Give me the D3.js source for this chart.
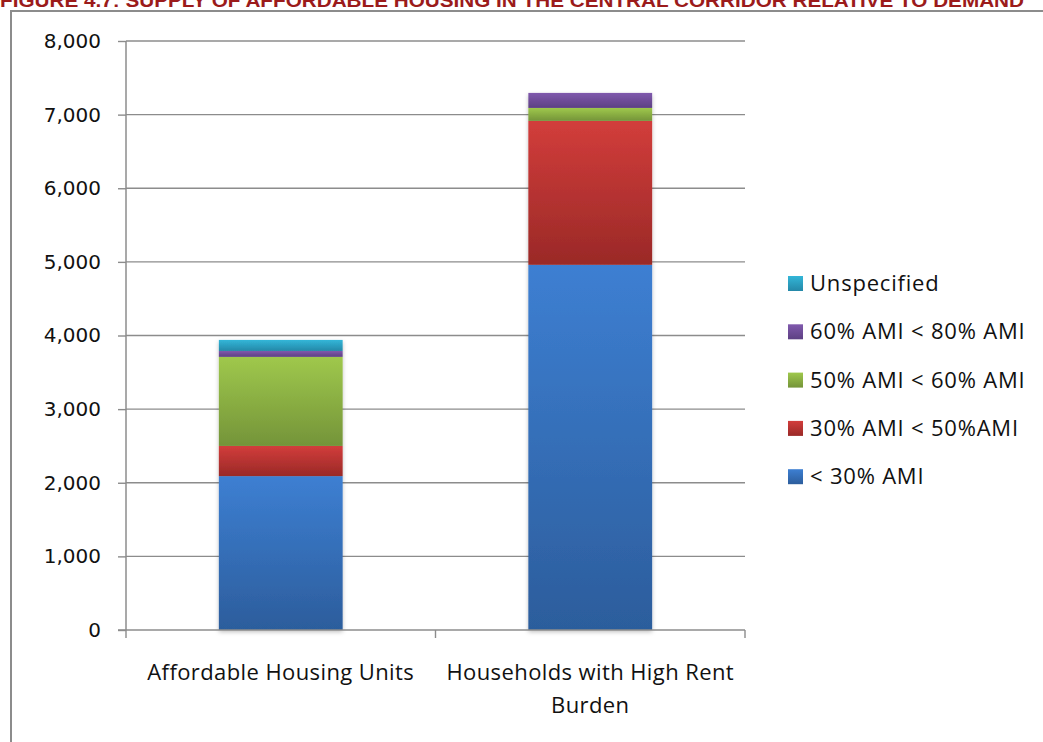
<!DOCTYPE html>
<html>
<head>
<meta charset="utf-8">
<script src="https://cdn.jsdelivr.net/npm/d3@7"></script>
<style>
  html, body { margin: 0; padding: 0; background: #fff; }
  svg { display: block; }
</style>
</head>
<body>
<svg id="chart" width="1043" height="742"></svg>
<script>
// Stacked supply vs. demand by income band
const categories = ["Affordable Housing Units", "Households with High Rent Burden"];
const seriesNames = ["< 30% AMI", "30% AMI < 50%AMI", "50% AMI < 60% AMI", "60% AMI < 80% AMI", "Unspecified"];
const below30 = [2090, 4960];
const from30to50 = [410, 1955];
const from50to60 = [1210, 176];
const from60to80 = [80, 204];
const unspecified = [150, 0];
const yTicks = [0, 1000, 2000, 3000, 4000, 5000, 6000, 7000, 8000];
const titleText = "FIGURE 4.7: SUPPLY OF AFFORDABLE HOUSING IN THE CENTRAL CORRIDOR RELATIVE TO DEMAND";

const seriesValues = [below30, from30to50, from50to60, from60to80, unspecified];
const palette = [
  ["#3d7fd2", "#2c5d9c"],
  ["#d23d3b", "#9a2927"],
  ["#9fc84c", "#749439"],
  ["#8059ad", "#5d4083"],
  ["#33b6d8", "#2488a8"]
];

const svg = d3.select("#chart");
const font = "'Open Sans', 'Noto Sans', sans-serif";
const tickFont = "'DejaVu Sans', Verdana, sans-serif";

// Gradients for each series
const defs = svg.append("defs");
palette.forEach((c, i) => {
  const g = defs.append("linearGradient").attr("id", "grad" + i)
    .attr("x1", 0).attr("y1", 0).attr("x2", 0).attr("y2", 1);
  g.append("stop").attr("offset", "0%").attr("stop-color", c[0]);
  g.append("stop").attr("offset", "100%").attr("stop-color", c[1]);
});
const shadow = defs.append("filter").attr("id", "shadow")
  .attr("x", "-10%").attr("y", "-10%").attr("width", "120%").attr("height", "120%");
shadow.append("feDropShadow").attr("dx", 0).attr("dy", 2).attr("stdDeviation", 2)
  .attr("flood-color", "#000").attr("flood-opacity", 0.25);

// Title running along the top edge
svg.append("text")
  .attr("x", 0).attr("y", 7)
  .attr("font-family", "'Liberation Sans Narrow', 'Liberation Sans', sans-serif")
  .attr("font-weight", "bold").attr("font-size", 19)
  .attr("fill", "#9b1b1b")
  .attr("textLength", 1024).attr("lengthAdjust", "spacingAndGlyphs")
  .text(titleText);

// Chart frame
svg.append("rect")
  .attr("x", 11).attr("y", 11).attr("width", 1050).attr("height", 760)
  .attr("fill", "none").attr("stroke", "#8c8c8c").attr("stroke-width", 2);

const plot = { left: 126, right: 745, top: 41, bottom: 630 };

const x = d3.scaleBand().domain(categories).range([plot.left, plot.right])
  .paddingInner(0.6).paddingOuter(0.3);
const xOuter = d3.scaleBand().domain(categories).range([plot.left, plot.right]);
const y = d3.scaleLinear().domain([0, 8000]).range([plot.bottom, plot.top]);

// Gridlines
svg.append("g").selectAll("line").data(yTicks.filter(d => d > 0)).join("line")
  .attr("x1", plot.left).attr("x2", plot.right)
  .attr("y1", d => y(d)).attr("y2", d => y(d))
  .attr("stroke", "#8c8c8c").attr("stroke-width", 1.4);

// Stack data
const rows = categories.map((c, i) => {
  const r = { category: c };
  seriesNames.forEach((s, j) => { r[s] = seriesValues[j][i]; });
  return r;
});
const stacked = d3.stack().keys(seriesNames)(rows);

const barG = svg.append("g").attr("filter", "url(#shadow)");
stacked.forEach((layer, i) => {
  barG.selectAll(null).data(layer.filter(d => d[1] - d[0] > 0)).join("rect")
    .attr("x", d => x(d.data.category))
    .attr("width", x.bandwidth())
    .attr("y", d => y(d[1]))
    .attr("height", d => y(d[0]) - y(d[1]))
    .attr("fill", "url(#grad" + i + ")");
});

// Y axis
const yAxis = svg.append("g").attr("transform", `translate(${plot.left},0)`)
  .call(d3.axisLeft(y).tickValues(yTicks).tickSize(8).tickPadding(17)
    .tickFormat(d3.format(",")));
yAxis.select(".domain").attr("stroke", "#8c8c8c").attr("stroke-width", 1.5)
  .attr("d", `M0,${plot.top}V${plot.bottom}`);
yAxis.selectAll(".tick line").attr("stroke", "#8c8c8c").attr("stroke-width", 1.4);
yAxis.selectAll(".tick text").attr("font-family", tickFont).attr("font-size", 20)
  .attr("fill", "#111");

// X axis
const xAxisG = svg.append("g").attr("transform", `translate(0,${plot.bottom})`);
xAxisG.append("line").attr("x1", plot.left - 8).attr("x2", plot.right)
  .attr("stroke", "#8c8c8c").attr("stroke-width", 1.5);
const xTickPos = [plot.left, ...categories.map(c => xOuter(c) + xOuter.bandwidth())];
xAxisG.selectAll(".xt").data(xTickPos).join("line")
  .attr("x1", d => d).attr("x2", d => d).attr("y1", 0).attr("y2", 8)
  .attr("stroke", "#8c8c8c").attr("stroke-width", 1.4);

const xLabelLines = [["Affordable Housing Units"], ["Households with High Rent", "Burden"]];
categories.forEach((c, i) => {
  const t = svg.append("text")
    .attr("x", x(c) + x.bandwidth() / 2).attr("y", 680)
    .attr("text-anchor", "middle")
    .attr("font-family", font).attr("font-size", 22).attr("letter-spacing", 0.4)
    .attr("fill", "#111");
  xLabelLines[i].forEach((ln, k) => {
    t.append("tspan").attr("x", x(c) + x.bandwidth() / 2).attr("dy", k === 0 ? 0 : 33).text(ln);
  });
});

// Legend (top to bottom: last series first)
const legend = svg.append("g");
const legendItems = seriesNames.map((s, i) => ({ name: s, i })).reverse();
legendItems.forEach((d, k) => {
  const cy = 283 + k * 48.3;
  legend.append("rect").attr("x", 788).attr("y", cy - 7).attr("width", 15).attr("height", 15)
    .attr("fill", "url(#grad" + d.i + ")");
  legend.append("text").attr("x", 810).attr("y", cy + 8)
    .attr("font-family", font).attr("font-size", 22).attr("letter-spacing", 0.8)
    .attr("fill", "#111")
    .text(d.name);
});
</script>
</body>
</html>
